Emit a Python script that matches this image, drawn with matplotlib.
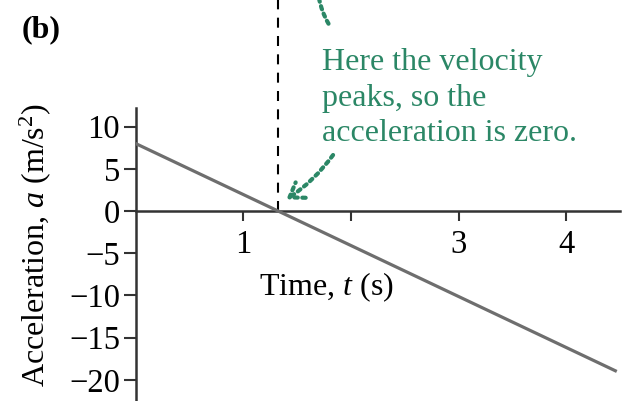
import matplotlib
matplotlib.use("Agg")
import matplotlib.pyplot as plt
from matplotlib.patches import FancyArrowPatch

# Acceleration versus time (straight line)
time_s = [0.0, 4.47]
accel = [8.0, -19.0]

x_ticks = [1, 2, 3, 4]
x_tick_labels = ["1", "", "3", "4"]
y_ticks = [-20, -15, -10, -5, 0, 5, 10]
y_tick_labels = ["\u221220", "\u221215", "\u221210", "\u22125", "0", "5", "10"]

note_lines = ["Here the velocity", "peaks, so the", "acceleration is zero."]

plt.rcParams["font.family"] = ["Liberation Serif", "DejaVu Serif"]
plt.rcParams["mathtext.fontset"] = "custom"
plt.rcParams["mathtext.rm"] = "Liberation Serif"
plt.rcParams["mathtext.it"] = "Liberation Serif:italic"
plt.rcParams["axes.unicode_minus"] = True

FS = 23
GREEN = "#2b8766"
AX_COL = "#333333"
LINE_COL = "#6e6e6e"
DOTS = (0, (0.8, 1.1))

fig = plt.figure(figsize=(6.26, 4.01), dpi=100)
ax = fig.add_axes([135.5 / 626, 0.0, 484.5 / 626, (401 - 108) / 401])
ax.set_xlim(0, 4.5)
ax.set_ylim(-22.5, 12.2)

for side in ("top", "right"):
    ax.spines[side].set_visible(False)
ax.spines["bottom"].set_position(("data", 0))
for side in ("left", "bottom"):
    ax.spines[side].set_color(AX_COL)
    ax.spines[side].set_linewidth(1.8)

ax.set_xticks(x_ticks)
ax.set_xticklabels(x_tick_labels)
ax.set_yticks(y_ticks)
ax.set_yticklabels(y_tick_labels)
ax.tick_params(axis="x", direction="out", length=7, width=1.5, color=AX_COL,
               labelsize=23.5, pad=6)
ax.tick_params(axis="y", direction="out", length=9, width=1.5, color=AX_COL,
               labelsize=23.5, pad=2)

ax.plot(time_s, accel, color=LINE_COL, lw=2.3, solid_capstyle="butt", zorder=3)

# time where the acceleration crosses zero
t0 = time_s[0] - accel[0] * (time_s[1] - time_s[0]) / (accel[1] - accel[0])
ax.plot([t0, t0], [0, 26], color="black", lw=1.5, dashes=(4.8, 4.0),
        clip_on=False, zorder=2)

ax.set_xlabel("Time, $t$ (s)", fontsize=FS)
ax.xaxis.label.set_va("center")
ax.xaxis.set_label_coords(0.393, 0.389)

ax.set_ylabel("Acceleration, $a$ (m/s$^2$)", fontsize=FS)
ax.yaxis.label.set_va("center")
ax.yaxis.set_label_coords(-0.207, 0.532)

ax.text(1.73, 19.3, "\n".join(note_lines), color=GREEN, fontsize=FS,
        ha="left", va="top", linespacing=1.3)

arrow = FancyArrowPatch((1.85, 6.9), (1.38, 1.2),
                        connectionstyle="arc3,rad=-0.1",
                        arrowstyle="->,head_length=3.2,head_width=2.2",
                        color=GREEN, lw=3.0, linestyle=DOTS,
                        mutation_scale=3.0, clip_on=False)
ax.add_patch(arrow)

tail = FancyArrowPatch((1.806, 21.9), (1.70, 25.5),
                       connectionstyle="arc3,rad=-0.1", arrowstyle="-",
                       color=GREEN, lw=3.0, linestyle=DOTS,
                       clip_on=False)
ax.add_patch(tail)

fig.text(22 / 626, 1 - 30 / 401, "(b)", fontsize=FS, fontweight="bold",
         ha="left", va="center")

fig.savefig("out.png", dpi=100)
